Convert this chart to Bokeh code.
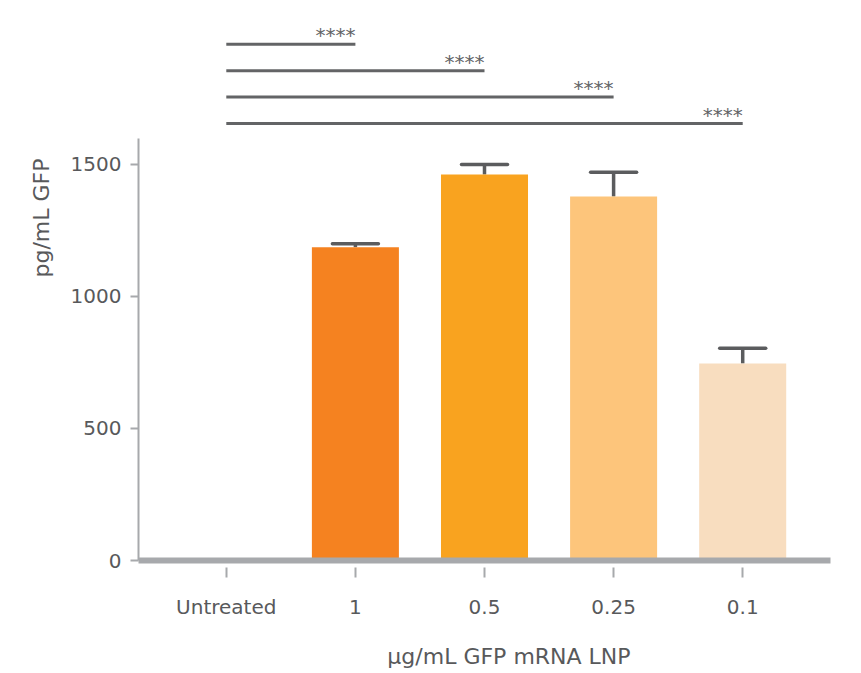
from bokeh.plotting import figure
from bokeh.models import (ColumnDataSource, FactorRange, Range1d, FixedTicker,
                          Whisker, TeeHead, Title)
from bokeh.core.properties import value
from bokeh.embed import file_html
from bokeh.resources import INLINE

# ---- data ----
categories = ["Untreated", "1", "0.5", "0.25", "0.1"]
means = [0, 1186, 1462, 1379, 746]
errors = [0, 14, 38, 91, 58]
bar_colors = ["#F58220", "#F58220", "#F9A31F", "#FDC57B", "#F8DDBF"]
sig_labels = ["****", "****", "****", "****"]
sig_targets = ["1", "0.5", "0.25", "0.1"]
y_ticks = [0, 500, 1000, 1500]

FONT = "DejaVu Sans"
TXT = "#58595B"
AX = "#A7A9AC"
DARK = "#5B5C5E"

p = figure(x_range=FactorRange(*categories, range_padding=0.18, range_padding_units="absolute"),
           y_range=Range1d(0, 2083), width=861, height=673,
           output_backend="svg", toolbar_location=None,
           min_border_left=138, min_border_right=31, min_border_top=10, min_border_bottom=113)
p.outline_line_color = None
p.grid.grid_line_color = None
p.background_fill_color = "white"

src = ColumnDataSource(dict(x=categories, top=means, color=bar_colors))
p.vbar(x="x", top="top", width=0.674, color="color", line_color=None, source=src)

ex = [c for c, e in zip(categories, errors) if e > 0]
eu = [m + e for m, e in zip(means, errors) if e > 0]
eb = [m for m, e in zip(means, errors) if e > 0]
esrc = ColumnDataSource(dict(x=ex, upper=eu, lower=eb))
w = Whisker(base="x", upper="upper", lower="lower", source=esrc,
            upper_head=TeeHead(size=46, line_width=3.5, line_color=DARK, line_cap="round"),
            lower_head=None, line_width=3.5, line_color=DARK)
p.add_layout(w)

# significance brackets
base_y, step = 1655, 100
n = len(sig_targets)
bx0 = [categories[0]] * n
bx1 = sig_targets
by = [base_y + step * (n - 1 - i) for i in range(n)]
bsrc = ColumnDataSource(dict(x0=bx0, x1=bx1, y=by, t=sig_labels))
p.segment(x0="x0", x1="x1", y0="y", y1="y", line_width=3, line_color="#636466", source=bsrc)
p.text(x="x1", y="y", text="t", source=bsrc, text_align="right", text_baseline="alphabetic",
       y_offset=-9, text_font=value(FONT), text_font_size="20px", text_color="#636466")

# axes
ya = p.yaxis[0]
ya.bounds = (0, 1600)
ya.ticker = FixedTicker(ticks=y_ticks)
ya.axis_line_color = AX
ya.axis_line_width = 2
ya.major_tick_line_color = AX
ya.major_tick_line_width = 2
ya.major_tick_out = 8
ya.major_tick_in = 0
ya.minor_tick_line_color = None
ya.major_label_text_font = FONT
ya.major_label_text_font_size = "20px"
ya.major_label_text_color = TXT
ya.major_label_standoff = 9

xa = p.xaxis[0]
xa.axis_line_color = AX
xa.axis_line_width = 6
xa.major_tick_line_color = AX
xa.major_tick_line_width = 2
xa.major_tick_out = 17
xa.major_tick_in = -7
xa.major_label_text_font = FONT
xa.major_label_text_font_size = "20px"
xa.major_label_text_color = TXT
xa.major_label_standoff = 17
xa.axis_label = "\u00a0" * 7 + "µg/mL GFP mRNA LNP"
xa.axis_label_standoff = 22
xa.axis_label_text_font = FONT
xa.axis_label_text_font_size = "22px"
xa.axis_label_text_font_style = "normal"
xa.axis_label_text_color = TXT

p.add_layout(Title(text="pg/mL GFP", align="left", offset=283, standoff=27,
                   text_font=FONT, text_font_size="22px", text_font_style="normal",
                   text_color=TXT), "left")

open("out.html", "w").write(file_html(p, INLINE))
